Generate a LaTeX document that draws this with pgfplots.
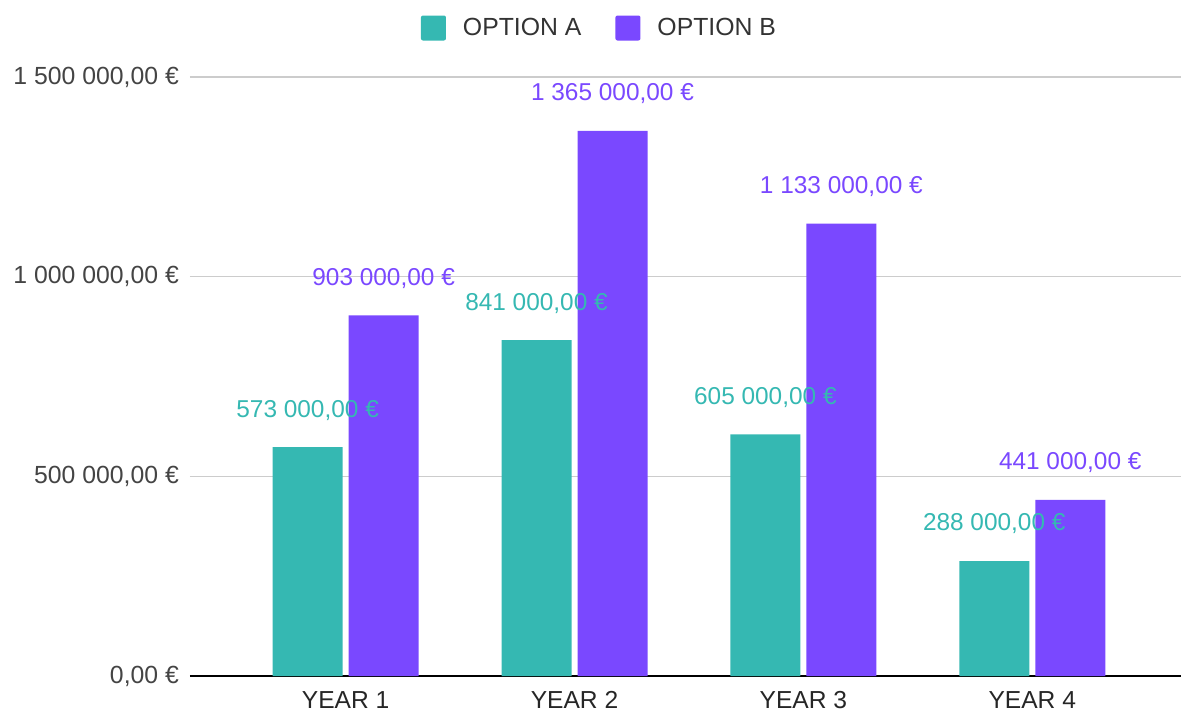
\documentclass[border=0pt]{standalone}
\usepackage{pgfplots}
\pgfplotsset{compat=1.18}
\usepackage{fontspec}
\setmainfont{Liberation Sans}
\definecolor{optA}{HTML}{35B8B2}
\definecolor{optB}{HTML}{7A48FF}
\definecolor{txt}{HTML}{444444}
\definecolor{gridc}{HTML}{CCCCCC}
\begin{document}
\begin{tikzpicture}
\path[use as bounding box] (-95pt,-18.5pt) rectangle (495.5pt,338pt);
\begin{axis}[
  scale only axis,
  width=495.5pt, height=299.5pt,
  xmin=-0.68, xmax=3.65,
  ymin=0, ymax=1500000,
  axis line style={draw=none},
  tick style={draw=none},
  ybar=3pt, bar width=35pt,
  xtick={0,1,2,3},
  xticklabels={YEAR 1,YEAR 2,YEAR 3,YEAR 4},
  ytick={500000,1000000,1500000},
  extra y ticks={0},
  extra y tick style={major grid style={black, line width=0.8pt}},
  ymajorgrids,
  major grid style={gridc, line width=0.7pt},
  scaled y ticks=false,
  /pgf/number format/.cd, fixed, fixed zerofill, precision=2, use comma, 1000 sep={\ }, assume math mode=true,
  /pgfplots/.cd,
  yticklabel={\pgfmathprintnumber{\tick}\ €},
  yticklabel style={font=\fontsize{12.4}{14}\selectfont, text=txt, xshift=-2pt},
  xticklabel style={font=\fontsize{12.3}{14}\selectfont, text=black!85, yshift=0pt},
  nodes near coords={\pgfmathprintnumber{\pgfplotspointmeta}\ €},
  every node near coord/.append style={font=\fontsize{12.2}{14}\selectfont, anchor=base, yshift=15pt},
  legend style={at={(0.4142,1.0818)}, anchor=center, draw=none, fill=none,
    legend columns=2, font=\fontsize{12.4}{14}\selectfont, text=black!80,
    /tikz/every even column/.append style={column sep=15pt}},
  legend image code/.code={\fill[#1, rounded corners=1pt] (0pt,-6.25pt) rectangle (12.5pt,6.25pt); \path (19pt,0pt);},
]
\addplot[fill=optA, draw=none, every node near coord/.append style={text=optA}]
  coordinates {(0,573000) (1,841000) (2,605000) (3,288000)};
\addplot[fill=optB, draw=none, every node near coord/.append style={text=optB}]
  coordinates {(0,903000) (1,1365000) (2,1133000) (3,441000)};
\legend{OPTION A, OPTION B}
\end{axis}
\end{tikzpicture}
\end{document}
